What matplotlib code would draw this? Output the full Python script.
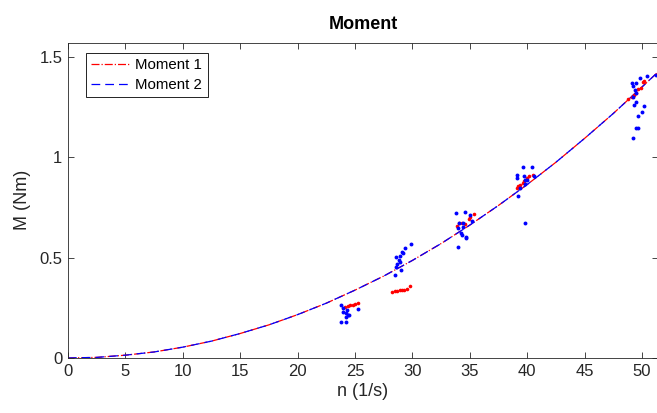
import matplotlib
matplotlib.use("Agg")
import matplotlib.pyplot as plt

plt.rcParams['font.family'] = ['Liberation Sans', 'DejaVu Sans']

# fitted curve
n_fit = [0, 2.5, 5, 7.5, 10, 12.5, 15, 17.5, 20, 22.5, 25, 27.5, 30, 32.5,
         35, 37.5, 40, 42.5, 45, 47.5, 50, 51.4]
m_fit = [0, 0.003, 0.014, 0.030, 0.054, 0.084, 0.122, 0.165, 0.216, 0.273,
         0.338, 0.408, 0.486, 0.570, 0.662, 0.760, 0.864, 0.975, 1.094, 1.218,
         1.350, 1.425]

# measured points, moment 1 (red)
n_red = [24.1, 24.4, 24.6, 24.8, 25.0, 25.3,
         28.2, 28.5, 28.7, 28.9, 29.1, 29.3, 29.5, 29.8,
         33.9, 34.1, 34.3, 34.6, 34.9, 35.0, 35.4,
         39.1, 39.2, 39.4, 39.6, 39.7, 40.0, 40.2, 40.5,
         48.8, 49.1, 49.3, 49.5, 49.7, 49.9, 50.1, 50.2]
m_red = [0.254, 0.258, 0.262, 0.265, 0.268, 0.274,
         0.330, 0.333, 0.335, 0.337, 0.339, 0.341, 0.344, 0.360,
         0.658, 0.671, 0.674, 0.668, 0.691, 0.704, 0.716,
         0.847, 0.855, 0.864, 0.872, 0.880, 0.897, 0.905, 0.914,
         1.289, 1.300, 1.310, 1.320, 1.340, 1.344, 1.377, 1.380]

# measured points, moment 2 (blue)
n_blue = [23.8, 24.0, 24.0, 24.2, 24.3, 24.4, 24.2, 24.5, 25.3, 23.8, 24.2,
          28.5, 28.6, 28.7, 28.6, 28.9, 28.8, 29.1, 29.2, 29.4, 29.9, 29.0,
          28.9,
          33.8, 34.6, 35.0, 35.2, 34.1, 34.0, 34.2, 34.3, 34.7, 34.7, 34.0,
          34.4, 34.4,
          39.6, 40.4, 39.1, 39.1, 39.7, 40.6, 39.8, 39.4, 39.2, 39.8, 40.0,
          39.8,
          49.1, 49.5, 49.8, 50.4, 49.2, 49.4, 49.5, 49.2, 49.3, 49.5, 50.2,
          50.0, 49.7, 49.5, 49.7, 49.2, 51.2]
m_blue = [0.264, 0.249, 0.229, 0.224, 0.239, 0.214, 0.204, 0.214, 0.244,
          0.180, 0.180,
          0.414, 0.455, 0.468, 0.505, 0.510, 0.490, 0.530, 0.525, 0.550,
          0.568, 0.438, 0.480,
          0.724, 0.729, 0.713, 0.684, 0.671, 0.646, 0.621, 0.613, 0.604,
          0.596, 0.554, 0.655, 0.671,
          0.953, 0.953, 0.910, 0.897, 0.905, 0.905, 0.889, 0.847, 0.805,
          0.868, 0.889, 0.671,
          1.371, 1.371, 1.396, 1.407, 1.354, 1.335, 1.319, 1.302, 1.261,
          1.277, 1.256, 1.224, 1.205, 1.147, 1.147, 1.094, 1.409]

fig = plt.figure(figsize=(6.57, 4.13), dpi=100)
ax = fig.add_axes([0.1035, 0.1332, 0.898, 0.7634])

txt = "#262626"
l1, = ax.plot(n_fit, m_fit, color="red", ls="-.", lw=0.9, label="Moment 1")
l2, = ax.plot(n_fit, m_fit, color="blue", ls=(0, (7, 4)), lw=0.9, label="Moment 2")
ax.plot(n_red, m_red, "o", color="red", ms=2.6, mew=0)
ax.plot(n_blue, m_blue, "o", color="blue", ms=2.8, mew=0)

ax.set_xlim(0, 51.4)
ax.set_ylim(0, 1.571)
ax.set_xticks(range(0, 55, 5))
ax.set_yticks([0, 0.5, 1, 1.5])
ax.set_yticklabels(["0", "0.5", "1", "1.5"])

ax.tick_params(direction="in", length=4.5, width=0.6, top=True, right=True,
               labelsize=12, colors=txt, pad=4)
for s in ax.spines.values():
    s.set_linewidth(0.6)
    s.set_color(txt)

ax.set_xlabel("n (1/s)", fontsize=13, color=txt, labelpad=3)
ax.set_ylabel("M (Nm)", fontsize=13, color=txt, labelpad=6)
ax.set_title("Moment", fontsize=13, fontweight="bold", pad=10)

leg = ax.legend(handles=[l1, l2], loc="upper left", bbox_to_anchor=(0.0305, 0.968),
                fontsize=10.8, fancybox=False, framealpha=1, edgecolor="black",
                handlelength=2.6, handletextpad=0.35, borderpad=0.35,
                labelspacing=0.4, borderaxespad=0)
leg.get_frame().set_linewidth(0.6)

fig.savefig("out.png", dpi=100)
